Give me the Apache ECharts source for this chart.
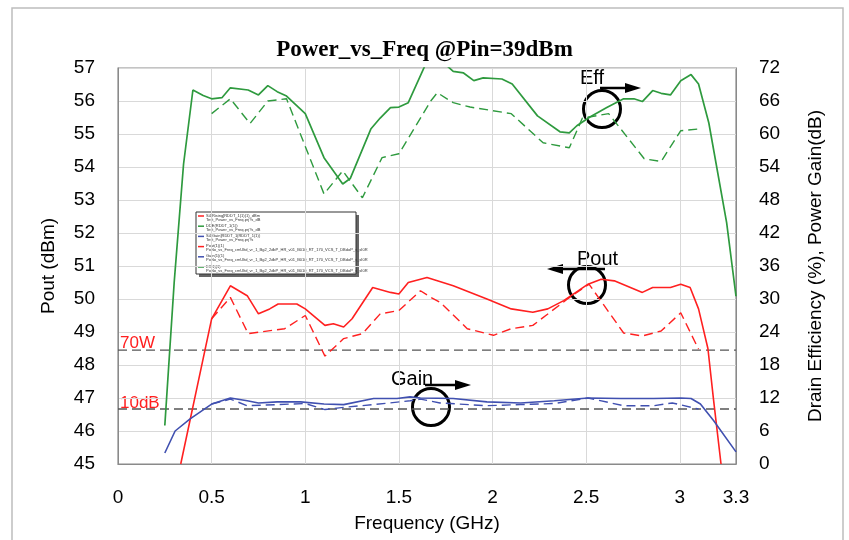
<!DOCTYPE html>
<html>
<head>
<meta charset="utf-8">
<script src="https://cdn.jsdelivr.net/npm/echarts@6/dist/echarts.min.js"></script>
<style>html,body{margin:0;padding:0;background:#fff;}#c{width:849px;height:540px;}</style>
</head>
<body>
<div id="c"></div>
<script>
// ---- data ----
const titleText = 'Power_vs_Freq @Pin=39dBm';
const xTicks = { min: 0, max: 3.3, interval: 0.5 };
const leftTicks = { min: 45, max: 57, interval: 1 };
const rightTicks = { min: 0, max: 72, interval: 6 };

const effSolid = [[0.25,7],[0.30,33],[0.35,54.5],[0.40,68],[0.455,67],[0.50,66.4],[0.555,66.6],[0.60,68.4],[0.695,68],[0.75,67.1],[0.80,68.8],[0.85,67.7],[0.90,66.9],[1.0,63.7],[1.10,55.7],[1.20,50.9],[1.24,51.9],[1.35,60.9],[1.40,62.9],[1.455,64.8],[1.50,64.9],[1.55,65.7],[1.64,72.5],[1.70,74],[1.75,72.6],[1.79,71.4],[1.845,71.1],[1.90,69.7],[1.95,70.2],[2.05,70],[2.105,69.1],[2.24,63.3],[2.36,60.4],[2.41,60.2],[2.45,61.5],[2.52,63.1],[2.61,64.8],[2.70,66.4],[2.755,66.4],[2.80,65.9],[2.855,67.9],[2.90,67.4],[2.95,67.1],[3.005,69.7],[3.06,70.8],[3.10,69.1],[3.155,62],[3.25,43.9],[3.30,30.5]];
const effDashed = [[0.50,63.7],[0.60,66.4],[0.705,61.9],[0.80,66],[0.90,66.4],[1.10,49.1],[1.20,53.3],[1.305,48.4],[1.41,55.7],[1.50,56.4],[1.67,66],[1.705,67.5],[1.79,65.7],[1.88,64.9],[2.10,63.7],[2.27,58.4],[2.41,57.5],[2.48,62.9],[2.62,63.7],[2.81,55.5],[2.90,55],[3.005,60.6],[3.10,60.9]];
const poutSolid = [[0.335,45],[0.455,48.2],[0.50,49.4],[0.60,50.4],[0.69,50.1],[0.75,49.55],[0.81,49.7],[0.855,49.85],[0.955,49.85],[1.0,49.7],[1.105,49.2],[1.15,49.25],[1.205,49.15],[1.25,49.4],[1.36,50.35],[1.455,50.2],[1.50,50.15],[1.55,50.5],[1.65,50.65],[1.79,50.4],[1.97,50],[2.10,49.7],[2.215,49.6],[2.295,49.7],[2.38,49.95],[2.51,50.45],[2.58,50.6],[2.65,50.55],[2.80,50.2],[2.855,50.35],[2.95,50.35],[3.005,50.45],[3.055,50.35],[3.10,49.7],[3.15,48.5],[3.18,46.95],[3.22,45]];
const poutDashed = [[0.50,49.4],[0.60,50.05],[0.695,48.95],[0.89,49.1],[1.0,49.5],[1.105,48.27],[1.205,48.8],[1.305,48.95],[1.40,49.55],[1.50,49.65],[1.615,50.25],[1.67,50.05],[1.72,49.9],[1.865,49.1],[2.005,48.9],[2.10,49.1],[2.215,49.2],[2.40,50],[2.515,50.45],[2.70,48.97],[2.80,48.88],[2.90,49.03],[3.005,49.58],[3.10,48.48]];
const gainSolid = [[0.25,2],[0.305,6],[0.385,8.2],[0.50,10.9],[0.60,12],[0.69,11.5],[0.75,11.1],[0.85,11.3],[0.975,11.3],[1.10,10.9],[1.205,10.8],[1.365,11.9],[1.49,11.9],[1.56,12.2],[1.615,12],[1.79,11.9],[1.97,11.3],[2.15,11.1],[2.33,11.5],[2.51,12],[2.685,11.9],[2.86,11.9],[3.005,12],[3.06,11.9],[3.11,10.9],[3.18,7.9],[3.30,2.2]];
const gainDashed = [[0.50,10.9],[0.60,11.8],[0.69,10.6],[0.85,10.8],[1.0,11],[1.105,9.9],[1.205,10.3],[1.365,10.8],[1.56,11.5],[1.615,11.8],[1.72,11.1],[1.97,10.6],[2.15,10.8],[2.33,11],[2.51,12],[2.70,10.6],[2.86,10.6],[2.96,11.1],[3.10,10]];
const ref70W = 48.45;   // dBm, left axis
const ref10dB = 10;     // dB, right axis
const legendItems = [
  ['#ff2020', 'S4[Rising]RDDT_1(1)(1)_dBm', 'Test_Power_vs_Freq.prj?s_dB'],
  ['#2e9a3e', 'DDE(RDDT_1(1))', 'Test_Power_vs_Freq.prj?s_dB'],
  ['#4050b0', 'S4[Gain]RDDT_1(RDDT_1(1))', 'Test_Power_vs_Freq.prj?s'],
  ['#ff2020', 'Pout(1)(1)', 'PoNo_vs_Freq_cmUltd_vr_1_Bg2_2dbP_HR_v01_B010_RT_170_VCS_T_DBdoP_s_sI0R'],
  ['#4050b0', 'Gain(1)(1)', 'PoNo_vs_Freq_cmUltd_vr_1_Bg2_2dbP_HR_v01_B010_RT_170_VCS_T_DBdoP_s_sI0R'],
  ['#2e9a3e', 'Eff(1)(1)', 'PoNo_vs_Freq_cmUltd_vr_1_Bg2_2dbP_HR_v01_B010_RT_170_VCS_T_DBdoP_s_sI0R']
];

const RED = '#ff2020', GREEN = '#2e9a3e', BLUE = '#4050b0';
const FONT = 'Liberation Sans';
const chart = echarts.init(document.getElementById('c'), null, { renderer: 'canvas' });

function line(name, data, color, yIdx, dashed, width) {
  return {
    name, type: 'line', data, yAxisIndex: yIdx, symbol: 'none', smooth: false,
    clip: true, silent: true, animation: false,
    lineStyle: { color, width: width || 1.6, type: dashed ? [9, 5] : 'solid' }
  };
}

// legend graphic
const legendG = [];
const lx = 196, ly = 212, lw = 160, lh = 62;
legendG.push({ type: 'rect', shape: { x: lx + 3, y: ly + 3, width: lw, height: lh }, style: { fill: '#666' }, silent: true });
legendG.push({ type: 'rect', shape: { x: lx, y: ly, width: lw, height: lh }, style: { fill: '#fff', stroke: '#333', lineWidth: 1 }, silent: true });
legendItems.forEach((it, i) => {
  const yy = ly + 4 + i * 10.2;
  legendG.push({ type: 'line', shape: { x1: lx + 2, y1: yy, x2: lx + 8, y2: yy }, style: { stroke: it[0], lineWidth: 1.5 }, silent: true });
  legendG.push({ type: 'text', x: lx + 10, y: yy - 2.5, style: { text: it[1], fontSize: 4, fill: '#333', fontFamily: FONT }, silent: true });
  legendG.push({ type: 'text', x: lx + 10, y: yy + 1.5, style: { text: it[2], fontSize: 4, fill: '#333', fontFamily: FONT }, silent: true });
});

function arrow(x1, x2, y) {
  const dir = x2 > x1 ? 1 : -1;
  return [
    { type: 'line', shape: { x1, y1: y, x2: x2 - dir * 12, y2: y }, style: { stroke: '#000', lineWidth: 2.5 }, silent: true },
    { type: 'polygon', shape: { points: [[x2, y], [x2 - dir * 16, y - 5], [x2 - dir * 16, y + 5]] }, style: { fill: '#000' }, silent: true }
  ];
}
function circle(cx, cy) {
  return { type: 'circle', shape: { cx, cy, r: 18.5 }, style: { fill: 'none', stroke: '#000', lineWidth: 3 }, silent: true };
}
function label(x, y, text, color, size) {
  return { type: 'text', x, y, style: { text, fill: color, fontSize: size, fontFamily: FONT }, silent: true };
}

const graphics = [
  { type: 'polyline', shape: { points: [[12, 540], [12, 8], [843, 8], [843, 540]] }, style: { stroke: '#bdbdbd', lineWidth: 1.5, fill: null }, silent: true },
  ...legendG,
  label(580, 68, 'Eff', '#000', 20), ...arrow(600, 641, 88), circle(602, 109),
  label(577, 249, 'Pout', '#000', 20), ...arrow(605, 547, 269), circle(587, 285),
  label(391, 369, 'Gain', '#000', 20), ...arrow(425, 471, 385), circle(431, 407),
  label(120, 335, '70W', RED, 17), label(120, 395, '10dB', RED, 17)
];

const option = {
  animation: false,
  backgroundColor: '#fff',
  title: { text: titleText, left: 'center', top: 34, textStyle: { fontFamily: 'Liberation Serif', fontWeight: 'bold', fontSize: 23, color: '#000' } },
  grid: { left: 118, right: 113, top: 68, bottom: 76, show: true, borderColor: '#8a8a8a', borderWidth: 1.2, containLabel: false },
  xAxis: {
    type: 'value', min: xTicks.min, max: xTicks.max, interval: xTicks.interval,
    name: 'Frequency (GHz)', nameLocation: 'middle', nameGap: 50,
    nameTextStyle: { fontFamily: FONT, fontSize: 19, color: '#000' },
    axisLine: { show: true, lineStyle: { color: '#8a8a8a' } }, axisTick: { show: false },
    axisLabel: { margin: 24, fontFamily: FONT, fontSize: 19, color: '#000', formatter: v => String(Math.round(v * 10) / 10) },
    splitLine: { show: true, lineStyle: { color: '#d9d9d9', width: 1 } }
  },
  yAxis: [
    {
      type: 'value', min: leftTicks.min, max: leftTicks.max, interval: leftTicks.interval, position: 'left',
      name: 'Pout (dBm)', nameLocation: 'middle', nameGap: 60, nameRotate: 90,
      nameTextStyle: { fontFamily: FONT, fontSize: 19, color: '#000' },
      axisLine: { show: true, lineStyle: { color: '#8a8a8a' } }, axisTick: { show: false },
      axisLabel: { margin: 23, fontFamily: FONT, fontSize: 19, color: '#000' },
      splitLine: { show: true, lineStyle: { color: '#d9d9d9', width: 1 } }
    },
    {
      type: 'value', min: rightTicks.min, max: rightTicks.max, interval: rightTicks.interval, position: 'right',
      name: 'Drain Efficiency (%), Power Gain(dB)', nameLocation: 'middle', nameGap: 70, nameRotate: 90,
      nameTextStyle: { fontFamily: FONT, fontSize: 19, color: '#000' },
      axisLine: { show: true, lineStyle: { color: '#8a8a8a' } }, axisTick: { show: false },
      axisLabel: { margin: 23, fontFamily: FONT, fontSize: 19, color: '#000' },
      splitLine: { show: false }
    }
  ],
  series: [
    line('70W', [[xTicks.min, ref70W], [xTicks.max, ref70W]], '#555', 0, true, 1.3),
    line('10dB', [[xTicks.min, ref10dB], [xTicks.max, ref10dB]], '#555', 1, true, 1.3),
    line('Eff dashed', effDashed, GREEN, 1, true, 1.4),
    line('Pout dashed', poutDashed, RED, 0, true, 1.4),
    line('Gain dashed', gainDashed, BLUE, 1, true, 1.4),
    line('Eff', effSolid, GREEN, 1, false, 1.7),
    line('Pout', poutSolid, RED, 0, false, 1.6),
    line('Gain', gainSolid, BLUE, 1, false, 1.6)
  ],
  graphic: graphics
};
chart.setOption(option);
</script>
</body>
</html>
